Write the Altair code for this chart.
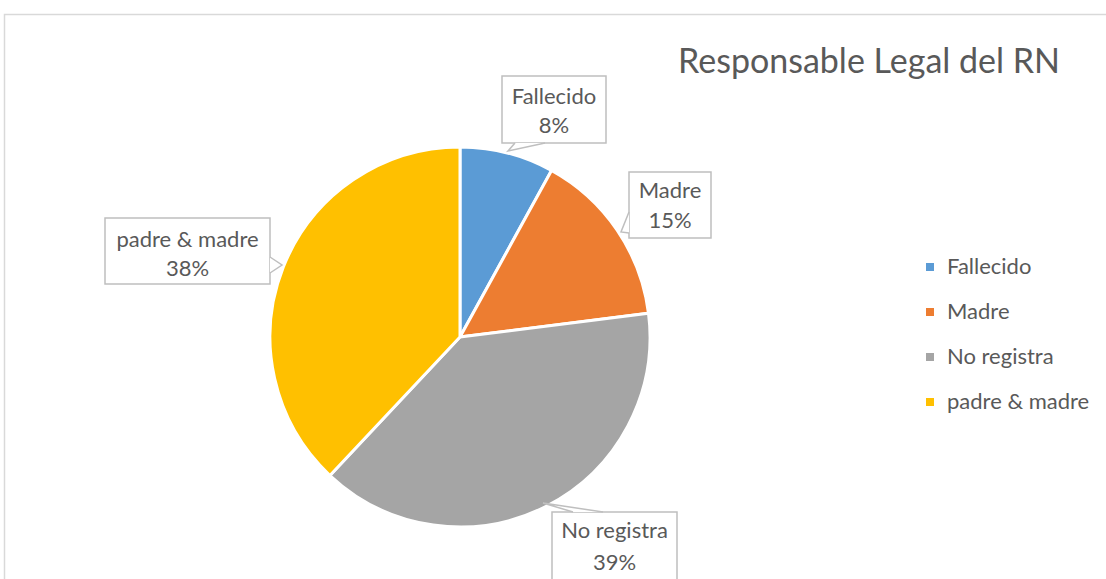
import altair as alt
import pandas as pd

# ---- data ----
categories = ["Fallecido", "Madre", "No registra", "padre & madre"]
percent = [8, 15, 39, 38]
colors = ["#5b9bd5", "#ed7d31", "#a5a5a5", "#ffc000"]
title_text = "Responsable Legal del RN"

# ---- callout layout (pixels, annotation only; same order as categories) ----
box_x = [502, 629, 552, 105]
box_x2 = [606, 711, 677, 270]
box_y = [76, 172, 512, 218]
box_y2 = [143, 238, 620, 284]
line1_y = [97, 191, 531, 240]
line2_y = [126, 221, 563, 269]
ptr_base1 = [(515, 143), (629, 212), (573, 512), (270, 257)]
ptr_tip = [(508, 151), (621, 232), (543, 503), (282, 265)]
ptr_base2 = [(545, 143), (629, 233), (603, 512), (270, 273)]

W, H = 1106, 579
FONT = "Lato"
GRAY_TXT = "#595959"
GRAY_LINE = "#bfbfbf"

pie_df = pd.DataFrame({"cat": categories, "pct": percent, "ord": list(range(len(categories)))})

xs = alt.Scale(domain=[0, W], range=[0, W], nice=False, zero=False)
ys = alt.Scale(domain=[0, H], range=[0, H], nice=False, zero=False)

pie = alt.Chart(pie_df).mark_arc(stroke="white", strokeWidth=3).encode(
    theta=alt.Theta("pct:Q", stack=True),
    order=alt.Order("ord:Q"),
    color=alt.Color(
        "cat:N",
        scale=alt.Scale(domain=categories, range=colors),
        sort=categories,
        legend=alt.Legend(
            title=None,
            orient="none",
            legendX=919,
            legendY=256,
            symbolType="square",
            symbolSize=64,
            symbolStrokeWidth=0,
            labelFont=FONT,
            labelFontSize=22,
            labelColor=GRAY_TXT,
            rowPadding=23,
            labelOffset=6,
        ),
    ),
    x=alt.value(460),
    y=alt.value(337),
    radius=alt.value(190),
)

# chart border
border_df = pd.DataFrame({"x": [4.5], "x2": [1120], "y": [14.5], "y2": [620]})
border = alt.Chart(border_df).mark_rect(fill="white", stroke="#d9d9d9", strokeWidth=1.5).encode(
    x=alt.X("x:Q", scale=xs, axis=None), x2="x2:Q",
    y=alt.Y("y:Q", scale=ys, axis=None), y2="y2:Q",
)

box_df = pd.DataFrame({"cat": categories, "x": box_x, "x2": box_x2, "y": box_y, "y2": box_y2})
boxes = alt.Chart(box_df).mark_rect(fill="white", stroke=GRAY_LINE, strokeWidth=1.5).encode(
    x=alt.X("x:Q", scale=xs, axis=None), x2="x2:Q",
    y=alt.Y("y:Q", scale=ys, axis=None), y2="y2:Q",
)

# pointer triangles
tri_rows = []
for i, c in enumerate(categories):
    for k, (px, py) in enumerate([ptr_base1[i], ptr_tip[i], ptr_base2[i], ptr_base1[i]]):
        tri_rows.append({"cat": c, "k": k, "x": px, "y": py})
tri_df = pd.DataFrame(tri_rows)
tri_fill = alt.Chart(tri_df).mark_line(color="white", strokeWidth=1, filled=True, fill="white").encode(
    x=alt.X("x:Q", scale=xs, axis=None),
    y=alt.Y("y:Q", scale=ys, axis=None),
    detail="cat:N",
    order="k:Q",
)
edge_rows = []
for i, c in enumerate(categories):
    for k, (px, py) in enumerate([ptr_base1[i], ptr_tip[i], ptr_base2[i]]):
        edge_rows.append({"cat": c, "k": k, "x": px, "y": py})
edge_df = pd.DataFrame(edge_rows)
tri_edge = alt.Chart(edge_df).mark_line(color=GRAY_LINE, strokeWidth=1.5).encode(
    x=alt.X("x:Q", scale=xs, axis=None),
    y=alt.Y("y:Q", scale=ys, axis=None),
    detail="cat:N",
    order="k:Q",
)

txt_df = pd.DataFrame({
    "cat": categories,
    "pct": [f"{p}%" for p in percent],
    "cx": [(a + b) / 2 for a, b in zip(box_x, box_x2)],
    "y1": line1_y,
    "y2": line2_y,
})
t1 = alt.Chart(txt_df).mark_text(font=FONT, fontSize=22, color=GRAY_TXT, baseline="middle").encode(
    x=alt.X("cx:Q", scale=xs, axis=None), y=alt.Y("y1:Q", scale=ys, axis=None), text="cat:N"
)
t2 = alt.Chart(txt_df).mark_text(font=FONT, fontSize=22, color=GRAY_TXT, baseline="middle").encode(
    x=alt.X("cx:Q", scale=xs, axis=None), y=alt.Y("y2:Q", scale=ys, axis=None), text="pct:N"
)

title_df = pd.DataFrame({"t": [title_text], "x": [869], "y": [63]})
title = alt.Chart(title_df).mark_text(font=FONT, fontSize=34, color=GRAY_TXT, baseline="middle").encode(
    x=alt.X("x:Q", scale=xs, axis=None), y=alt.Y("y:Q", scale=ys, axis=None), text="t:N"
)

chart = alt.layer(border, pie, boxes, tri_fill, tri_edge, t1, t2, title).properties(
    width=W, height=H, padding=0, autosize=alt.AutoSizeParams(type="none"),
    background="white",
).configure_view(stroke=None)

chart.save("out.html", embed_options={"renderer": "svg", "actions": False})
